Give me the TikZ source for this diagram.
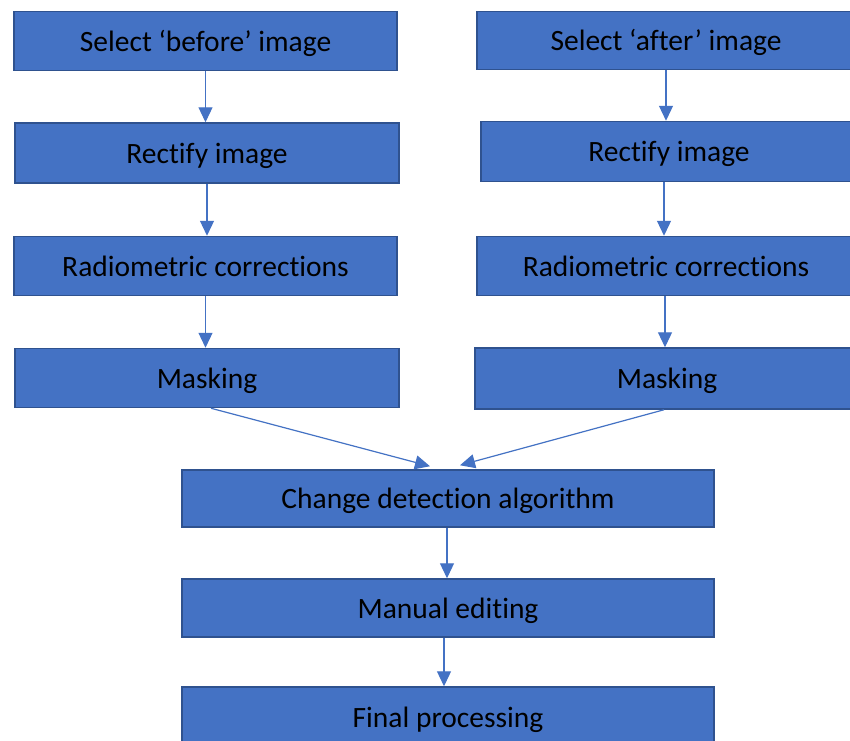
\documentclass[tikz,border=0pt]{standalone}
\usepackage{fontspec}
\setmainfont[Ligatures={NoCommon}]{Carlito}
\usetikzlibrary{arrows.meta,calc}
\definecolor{boxfill}{HTML}{4472C4}
\definecolor{boxline}{HTML}{2F528F}
\tikzset{
  box/.style={draw=boxline, line width=1.5pt, fill=boxfill, rectangle, inner sep=0pt,
    font=\fontsize{29.5}{34}\selectfont, text=black, text height=22pt, text depth=2pt},
  arr/.style={draw=boxfill, line width=1.2pt, -{Triangle[width=14pt,length=15pt]}}
}
\begin{document}
\begin{tikzpicture}[x=1pt,y=-1pt]
\useasboundingbox (0,0) rectangle (850,740);
\clip (0,0) rectangle (850,740);
\fill[white] (0,0) rectangle (850,740);
% left column
\node[box, minimum width=383pt, minimum height=59pt] (A1) at (205.5,41) {Select ‘before’ image};
\node[box, minimum width=384pt, minimum height=60pt] (A2) at (207,153) {Rectify image};
\node[box, minimum width=383pt, minimum height=59pt] (A3) at (205.5,266) {Radiometric corrections};
\node[box, minimum width=384pt, minimum height=59pt] (A4) at (207,378) {Masking};
% right column
\node[box, minimum width=378pt, minimum height=58pt] (B1) at (666,40.5) {Select ‘after’ image};
\node[box, minimum width=376pt, minimum height=60pt] (B2) at (669,151.5) {Rectify image};
\node[box, minimum width=378pt, minimum height=59pt] (B3) at (666,266) {Radiometric corrections};
\node[box, minimum width=384pt, minimum height=61pt] (B4) at (667,378.5) {Masking};
% centre column
\node[box, minimum width=532pt, minimum height=57pt] (C1) at (448,498.5) {Change detection algorithm};
\node[box, minimum width=532pt, minimum height=58pt] (C2) at (448,608) {Manual editing};
\node[box, minimum width=532pt, minimum height=60pt] (C3) at (448,717) {Final processing};
% connectors
\draw[arr] (A1.south) -- (A1.south |- A2.north);
\draw[arr] (A2.south) -- (A2.south |- A3.north);
\draw[arr] (A3.south) -- (A3.south |- A4.north);
\draw[arr] (B1.south) -- (B1.south |- B2.north);
\draw[arr] ($(B2.south)+(-5,0)$) -- ($(B2.south |- B3.north)+(-5,0)$);
\draw[arr] ($(B3.south)+(-1,0)$) -- ($(B3.south |- B4.north)+(-1,0)$);
\coordinate (inL) at ($(C1.north)+(-18,-3)$);
\coordinate (inR) at ($(C1.north)+(12,-4)$);
\draw[arr] ($(A4.south)+(4,0)$) -- (inL);
\draw[arr] ($(B4.south)+(-3,0)$) -- (inR);
\draw[arr] ($(C1.south)+(-1,0)$) -- ($(C1.south |- C2.north)+(-1,0)$);
\draw[arr] ($(C2.south)+(-4,0)$) -- ($(C2.south |- C3.north)+(-4,0)$);
\end{tikzpicture}
\end{document}
